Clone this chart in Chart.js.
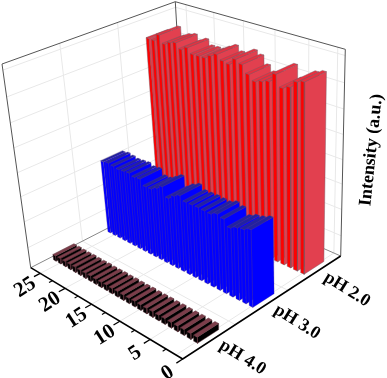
<!DOCTYPE html>
<html>
<head>
<meta charset="utf-8">
<title>Intensity 3D bars</title>
<script src="https://cdn.jsdelivr.net/npm/chart.js@4"></script>
<style>
  html, body { margin: 0; padding: 0; background: #fff; }
  canvas { display: block; }
</style>
</head>
<body>
<canvas id="myChart" width="387" height="378"></canvas>
<script>
// dados (intensidade em u.a., escala 0-100)
const posicoes = [1,2,3,4,5,6,7,8,9,10,11,12,13,14,15,16,17,18,19,20,21,22,23,24,25,26];
const ph2 = [91.4,90.2,86.6,85.0,90.7,86.1,85.0,83.9,86.4,90.3,91.8,88.3,89.0,91.3,89.5,87.6,87.5,87.4,89.9,88.1,90.6,89.7,88.0,91.9,88.2,88.3];
const ph3 = [35.7,34.3,33.6,32.1,35.0,35.9,34.5,34.7,34.9,34.8,34.7,36.6,35.0,32.7,37.1,35.0,33.4,33.3,35.9,35.5,36.4,36.1,35.8,36.3,36.7,36.2];
const ph4 = [2.7,2.6,2.7,2.6,2.6,2.7,2.6,2.7,2.6,2.6,2.7,2.6,2.6,2.7,2.6,2.7,2.6,2.6,2.7,2.6,2.6,2.7,2.6,2.6,2.7,2.6];

const xTicks = [0,5,10,15,20,25];
const xMinorTicks = [2.5,7.5,12.5,17.5,22.5];
const xGrid = [1,5,10,15,20,25];
const phLabels = ["pH 4.0","pH 3.0","pH 2.0"];
const phCentros = [0.19,0.534,0.85];
const phGrid = [1/3,2/3];
const zGrid = [9.8,22.5,34.8,46.6,58.8,71.1,83.8,97];

const X_MAX = 27, Z_MAX = 100;

// cantos da caixa 3D (frente, direita, esquerda, fundo)
const piso = { f:[182.7,359], d:[340.7,256], e:[30.7,267.7], b:[186,188] };
const teto = { f:[170,130], d:[345.3,49.3], e:[2,64], b:[175.3,1.7] };

function mix(a, b, t) { return a + (b - a) * t; }

// projeta (posicao, profundidade 0-1, intensidade) para os eixos x/y do grafico
function proj(u, v, z) {
  const t = u / X_MAX;
  const s = 1.2 * t / (1 + 0.2 * t); // perspectiva ao longo do eixo x
  const w = z / Z_MAX;
  const canto = function(c, i) {
    const frente = mix(c.f[i], c.e[i], s);
    const fundo = mix(c.d[i], c.b[i], s);
    return mix(frente, fundo, v);
  };
  return {
    x: mix(canto(piso,0), canto(teto,0), w),
    y: mix(canto(piso,1), canto(teto,1), w)
  };
}

const series = [
  { valores: ph2, v0: 0.80, v1: 0.925, lado: "#e2404f", frente: "#ff0000", topo: "#e8303f", borda: "rgba(120,90,100,0.75)" },
  { valores: ph3, v0: 0.475, v1: 0.61, lado: "#0000ff", frente: "#0000ff", topo: "#2222a0", borda: "rgba(90,60,130,0.5)" },
  { valores: ph4, v0: 0.125, v1: 0.26, lado: "#000000", frente: "#000000", topo: "#7c3d4a", borda: "rgba(90,50,60,0.8)" }
];
const MEIA_LARGURA = 0.27;

function linha(pontos, cor, esp) {
  return { data: pontos, borderColor: cor, borderWidth: esp, showLine: true, fill: false, pointRadius: 0, tension: 0 };
}
function face(pontos, cor, borda) {
  return { data: pontos.concat([pontos[0]]), backgroundColor: cor, borderColor: borda, borderWidth: 0.6,
    showLine: true, fill: "shape", pointRadius: 0, tension: 0 };
}

const camadas = [];

// grades das paredes e do piso
const corGrade = "#e8e8e8";
zGrid.forEach(function(z) {
  camadas.push(linha([proj(X_MAX,0,z), proj(X_MAX,1,z), proj(0,1,z)], corGrade, 1));
});
xGrid.forEach(function(u) {
  camadas.push(linha([proj(u,0,0), proj(u,1,0), proj(u,1,Z_MAX)], corGrade, 1));
});
phGrid.forEach(function(v) {
  camadas.push(linha([proj(0,v,0), proj(X_MAX,v,0), proj(X_MAX,v,Z_MAX)], corGrade, 1));
});

// moldura das paredes
camadas.push(linha([proj(X_MAX,0,0), proj(X_MAX,0,Z_MAX), proj(X_MAX,1,Z_MAX), proj(0,1,Z_MAX), proj(0,1,0)], "#555", 1));
camadas.push(linha([proj(X_MAX,0,0), proj(X_MAX,1,0), proj(0,1,0)], "#888", 1));
camadas.push(linha([proj(X_MAX,1,0), proj(X_MAX,1,Z_MAX)], "#555", 1));

// eixos da frente com marcas
camadas.push(linha([proj(X_MAX,0,0), proj(0,0,0), proj(0,1,0)], "#000", 1.5));
xTicks.forEach(function(u) { camadas.push(linha([proj(u,0,0), proj(u,-0.04,0)], "#000", 1.3)); });
xMinorTicks.forEach(function(u) { camadas.push(linha([proj(u,0,0), proj(u,-0.022,0)], "#000", 1.1)); });

// barras: do fundo para a frente, e de x maior para x menor
series.forEach(function(s) {
  for (let i = posicoes.length - 1; i >= 0; i--) {
    const u0 = posicoes[i] - MEIA_LARGURA, u1 = posicoes[i] + MEIA_LARGURA;
    const z = s.valores[i];
    camadas.push(face([proj(u0,s.v0,0), proj(u0,s.v1,0), proj(u0,s.v1,z), proj(u0,s.v0,z)], s.lado, s.borda));
    camadas.push(face([proj(u0,s.v0,0), proj(u1,s.v0,0), proj(u1,s.v0,z), proj(u0,s.v0,z)], s.frente, s.borda));
    camadas.push(face([proj(u0,s.v0,z), proj(u1,s.v0,z), proj(u1,s.v1,z), proj(u0,s.v1,z)], s.topo, s.borda));
  }
});

// textos dos eixos
const textosPlugin = {
  id: "textos",
  afterDraw: function(chart) {
    const c = chart.ctx;
    const sx = chart.scales.x, sy = chart.scales.y;
    const escreve = function(txt, x, y, ang, fonte) {
      c.save();
      c.translate(sx.getPixelForValue(x), sy.getPixelForValue(y));
      c.rotate(ang * Math.PI / 180);
      c.font = fonte;
      c.fillStyle = "#000";
      c.textAlign = "center";
      c.textBaseline = "middle";
      c.fillText(txt, 0, 0);
      c.restore();
    };
    xTicks.forEach(function(u) {
      const p = proj(u,0,0);
      escreve(String(u), p.x - 15, p.y + 14, -33, "bold 21px 'Liberation Serif'");
    });
    phLabels.forEach(function(t, i) {
      const p = proj(0,phCentros[i],0);
      escreve(t, p.x + 30, p.y + 18, 32, "bold 18px 'Liberation Serif'");
    });
    escreve("Intensity (a.u.)", 371.5, 150, -84, "bold 18px 'Liberation Serif'");
  }
};

const ctx = document.getElementById("myChart").getContext("2d");
new Chart(ctx, {
  type: "scatter",
  // o Chart.js pinta o primeiro dataset por cima, por isso o reverse
  data: { datasets: camadas.reverse() },
  options: {
    responsive: false,
    animation: false,
    layout: { padding: 0 },
    plugins: { legend: { display: false }, tooltip: { enabled: false }, title: { display: false } },
    scales: {
      x: { type: "linear", min: 0, max: 387, display: false },
      y: { type: "linear", min: 0, max: 378, reverse: true, display: false }
    }
  },
  plugins: [textosPlugin]
});
</script>
</body>
</html>
